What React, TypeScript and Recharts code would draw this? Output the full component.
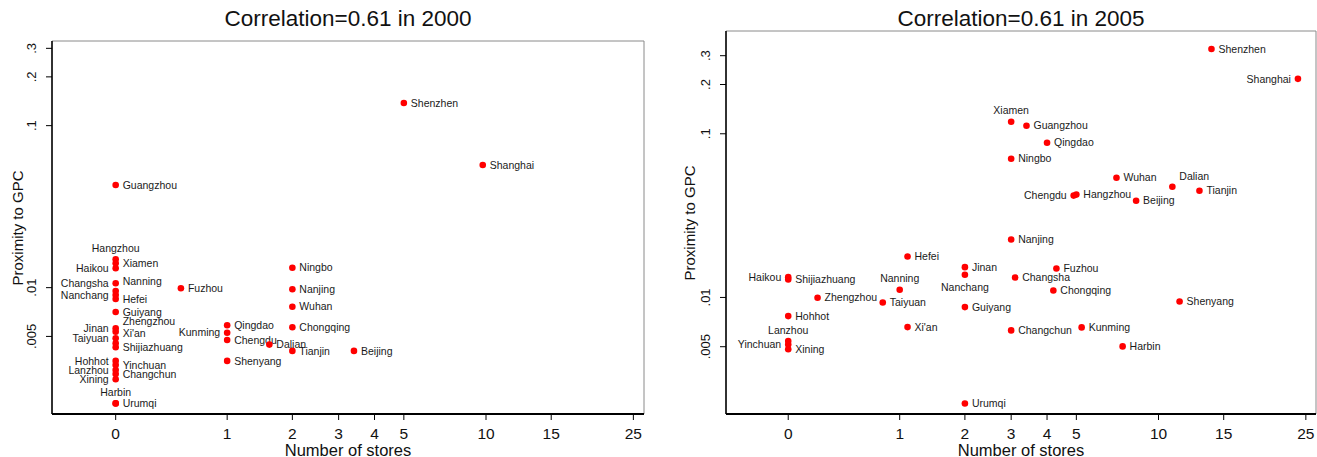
import React from 'react'
import { ScatterChart, Scatter, XAxis, YAxis, ReferenceArea } from 'recharts'

// 2000 panel
const cities2000 = [
  'Guangzhou', 'Hangzhou', 'Xiamen', 'Haikou', 'Nanning', 'Changsha', 'Nanchang', 'Hefei',
  'Guiyang', 'Zhengzhou', 'Jinan', "Xi'an", 'Taiyuan', 'Shijiazhuang', 'Hohhot', 'Yinchuan',
  'Lanzhou', 'Changchun', 'Xining', 'Harbin', 'Urumqi', 'Fuzhou', 'Shenzhen', 'Shanghai',
  'Ningbo', 'Nanjing', 'Wuhan', 'Chongqing', 'Tianjin', 'Beijing', 'Qingdao', 'Kunming',
  'Chengdu', 'Dalian', 'Shenyang',
]
const stores2000 = [
  0, 0, 0, 0, 0, 0, 0, 0,
  0, 0, 0, 0, 0, 0, 0, 0,
  0, 0, 0, 0, 0, 0.5, 5, 8.8,
  2, 2, 2, 2, 2, 3.4, 1, 1,
  1, 1.6, 1,
]
const proximity2000 = [
  0.043, 0.01497, 0.01414, 0.01317, 0.00954, 0.01064, 0.00901, 0.00851,
  0.00708, 0.00535, 0.00562, 0.00454, 0.00487, 0.00429, 0.00353, 0.00333,
  0.0031, 0.00293, 0.00272, 0.00193, 0.00193, 0.00991, 0.1379, 0.0572,
  0.01328, 0.00977, 0.00763, 0.0057, 0.00407, 0.00407, 0.00586, 0.00527,
  0.00475, 0.00445, 0.00353,
]
const labelPos2000 = [
  'r', 't', 'r', 'l', 'tr', 'l', 'l', 'r',
  'r', 'tr', 'l', 'tr', 'l', 'r', 'l', 'r',
  'l', 'r', 'l', 't', 'r', 'r', 'r', 'r',
  'r', 'r', 'r', 'r', 'r', 'r', 'r', 'l',
  'r', 'r', 'r',
]

// 2005 panel
const cities2005 = [
  'Shenzhen', 'Shanghai', 'Xiamen', 'Guangzhou', 'Qingdao', 'Ningbo', 'Wuhan', 'Dalian',
  'Tianjin', 'Chengdu', 'Hangzhou', 'Beijing', 'Nanjing', 'Hefei', 'Jinan', 'Nanchang',
  'Fuzhou', 'Changsha', 'Haikou', 'Shijiazhuang', 'Nanning', 'Chongqing', 'Zhengzhou', 'Shenyang',
  'Taiyuan', 'Guiyang', 'Hohhot', "Xi'an", 'Kunming', 'Changchun', 'Lanzhou', 'Yinchuan',
  'Harbin', 'Xining', 'Urumqi',
]
const stores2005 = [
  12.9, 22.8, 3, 3.4, 4, 3, 6.7, 9.9,
  11.9, 4.9, 5, 7.7, 3, 1.1, 2, 2,
  4.3, 3.1, 0, 0, 1, 4.2, 0.2, 10.4,
  0.8, 2, 0, 1.1, 5.2, 3, 0, 0,
  7, 0, 2,
]
const proximity2005 = [
  0.3299, 0.2165, 0.1184, 0.1119, 0.0881, 0.0704, 0.0539, 0.0475,
  0.0449, 0.0419, 0.0425, 0.039, 0.02258, 0.01778, 0.01531, 0.01376,
  0.01503, 0.01324, 0.0133, 0.01288, 0.01114, 0.01103, 0.00996, 0.00945,
  0.00932, 0.00873, 0.00769, 0.00659, 0.00656, 0.00629, 0.00541, 0.00515,
  0.00502, 0.00482, 0.00225,
]
const labelPos2005 = [
  'r', 'l', 't', 'r', 'r', 'r', 'r', 'tr',
  'r', 'l', 'r', 'r', 'r', 'r', 'r', 'b',
  'r', 'r', 'l', 'r', 't', 'r', 'r', 'r',
  'r', 'r', 'r', 'r', 'r', 'r', 't', 'l',
  'r', 'r', 'r',
]

// the 10/15/25 ticks sit at log(x) rather than log(x+1) in the original
const storeTickAt = [0, 1, 2, 3, 4, 5, 9, 14, 24]
const storeTickLabels = ['0', '1', '2', '3', '4', '5', '10', '15', '25']
const proximityTicks = [0.005, 0.01, 0.1, 0.2, 0.3]
const proximityTickLabels = ['.005', '.01', '.1', '.2', '.3']

const FONT = '"Liberation Sans", Arial, Helvetica, sans-serif'

const xTicks = storeTickAt.map((v) => Math.log1p(v))

function storeLabel(v: number) {
  const i = xTicks.findIndex((t) => Math.abs(t - v) < 1e-6)
  return i >= 0 ? storeTickLabels[i] : ''
}

function CityDot(props: any) {
  const { cx, cy, payload } = props
  if (cx == null || cy == null) return null
  let x = cx + 7
  let y = cy
  let anchor: 'start' | 'end' | 'middle' = 'start'
  if (payload.pos === 'l') {
    x = cx - 7
    anchor = 'end'
  } else if (payload.pos === 't') {
    x = cx
    y = cy - 11
    anchor = 'middle'
  } else if (payload.pos === 'b') {
    x = cx
    y = cy + 13
    anchor = 'middle'
  } else if (payload.pos === 'tr') {
    y = cy - 10
  }
  return (
    <g>
      <circle cx={cx} cy={cy} r={3.3} fill="#ff0000" />
      <text x={x} y={y} dy="0.35em" textAnchor={anchor} fontSize={10.5} fill="#1a1a1a" fontFamily={FONT}>
        {payload.city}
      </text>
    </g>
  )
}

function YTick(props: any) {
  const { x, y, payload } = props
  const i = proximityTicks.findIndex((t) => Math.abs(t - payload.value) < 1e-9)
  return (
    <text
      x={x}
      y={y}
      transform={`rotate(-90 ${x} ${y})`}
      textAnchor="middle"
      fontSize={13}
      fill="#111"
      fontFamily={FONT}
    >
      {i >= 0 ? proximityTickLabels[i] : ''}
    </text>
  )
}

interface PanelProps {
  title: string
  cities: string[]
  stores: number[]
  proximity: number[]
  labelPos: string[]
  left: number
  width: number
  top: number
  yAxisWidth: number
  rightMargin: number
  xDomain: [number, number]
  yDomain: [number, number]
}

function Panel({
  title,
  cities,
  stores,
  proximity,
  labelPos,
  left,
  width,
  top,
  yAxisWidth,
  rightMargin,
  xDomain,
  yDomain,
}: PanelProps) {
  const rows = cities.map((city, i) => ({
    city,
    x: Math.log1p(stores[i]),
    y: proximity[i],
    pos: labelPos[i],
  }))
  const plotLeft = yAxisWidth
  const plotRight = width - rightMargin
  const midX = (plotLeft + plotRight) / 2
  const midY = (top + 414) / 2

  return (
    <div style={{ position: 'absolute', left, top: 0, width, height: 457, fontFamily: FONT }}>
      <ScatterChart width={width} height={457} margin={{ top, right: rightMargin, bottom: 0, left: 0 }}>
        <ReferenceArea
          x1={xDomain[0]}
          x2={xDomain[1]}
          y1={yDomain[0]}
          y2={yDomain[1]}
          fill="none"
          stroke="#8a8a8a"
          strokeWidth={1}
          ifOverflow="visible"
        />
        <XAxis
          type="number"
          dataKey="x"
          domain={xDomain}
          allowDataOverflow
          ticks={xTicks}
          interval={0}
          tickFormatter={storeLabel}
          height={43}
          tickSize={6}
          tickMargin={8}
          axisLine={{ stroke: '#000', strokeWidth: 2 }}
          tickLine={{ stroke: '#000' }}
          tick={{ fontSize: 15.5, fill: '#111', fontFamily: FONT }}
        />
        <YAxis
          type="number"
          dataKey="y"
          scale="log"
          domain={yDomain}
          allowDataOverflow
          ticks={proximityTicks}
          interval={0}
          width={yAxisWidth}
          tickSize={6}
          tickMargin={10}
          axisLine={{ stroke: '#000', strokeWidth: 1.5 }}
          tickLine={{ stroke: '#000' }}
          tick={<YTick />}
        />
        <Scatter data={rows} shape={CityDot} isAnimationActive={false} />
      </ScatterChart>
      <div
        style={{
          position: 'absolute',
          left: midX - 200,
          width: 400,
          top: 6,
          textAlign: 'center',
          fontSize: 22.5,
          color: '#111',
          lineHeight: '26px',
        }}
      >
        {title}
      </div>
      <div
        style={{
          position: 'absolute',
          left: midX - 150,
          width: 300,
          top: 441,
          textAlign: 'center',
          fontSize: 16.5,
          color: '#111',
          lineHeight: '18px',
        }}
      >
        Number of stores
      </div>
      <div
        style={{
          position: 'absolute',
          left: plotLeft - (plotLeft === 52 ? 34 : 36) - 100,
          top: midY - 10,
          width: 200,
          textAlign: 'center',
          fontSize: 15,
          color: '#111',
          lineHeight: '20px',
          transform: 'rotate(-90deg)',
        }}
      >
        Proximity to GPC
      </div>
    </div>
  )
}

export default function App() {
  return (
    <div style={{ position: 'absolute', left: 0, top: 0, width: 1317, height: 457, background: '#fff' }}>
      <Panel
        title="Correlation=0.61 in 2000"
        cities={cities2000}
        stores={stores2000}
        proximity={proximity2000}
        labelPos={labelPos2000}
        left={0}
        width={658}
        top={41}
        yAxisWidth={52}
        rightMargin={14}
        xDomain={[-0.396, 3.285]}
        yDomain={[0.00166, 0.333]}
      />
      <Panel
        title="Correlation=0.61 in 2005"
        cities={cities2005}
        stores={stores2005}
        proximity={proximity2005}
        labelPos={labelPos2005}
        left={658}
        width={659}
        top={31}
        yAxisWidth={68}
        rightMargin={1}
        xDomain={[-0.387, 3.282]}
        yDomain={[0.00194, 0.4246]}
      />
    </div>
  )
}
